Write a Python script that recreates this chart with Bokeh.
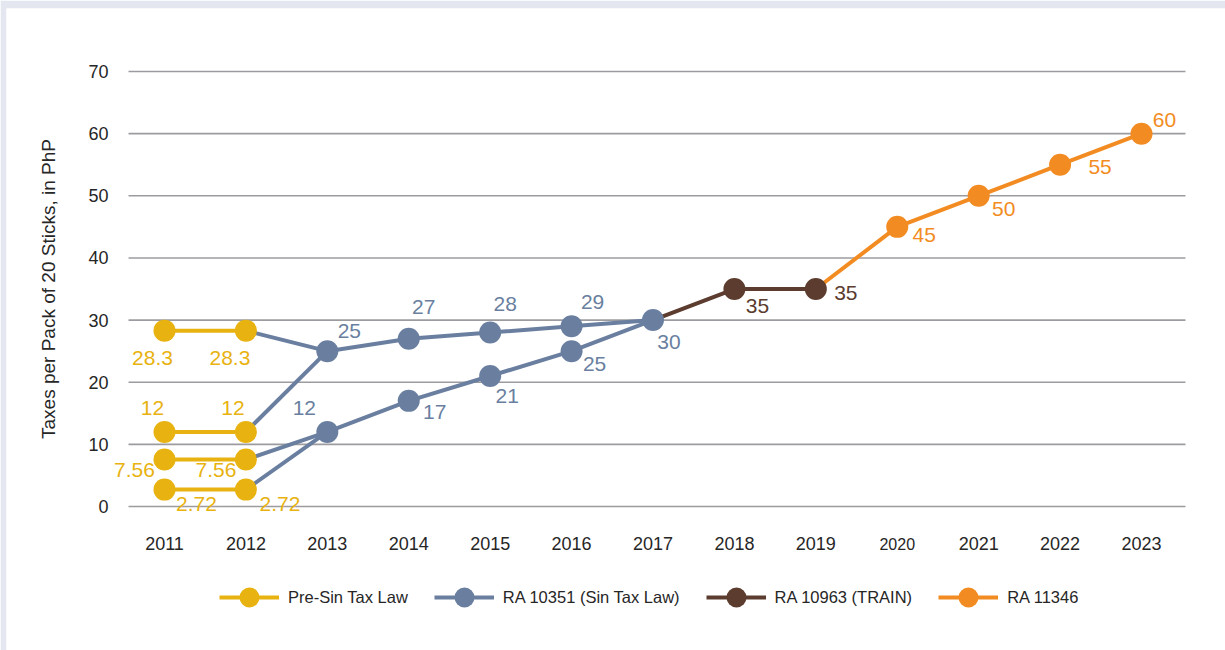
import math
from bokeh.plotting import figure
from bokeh.models import Range1d, ColumnDataSource, Legend, LegendItem
from bokeh.core.properties import value
from bokeh.embed import file_html
from bokeh.resources import INLINE

FONT = "Liberation Sans"

# ---------------- data ----------------
years = list(range(2011, 2024))
y_ticks = [0, 10, 20, 30, 40, 50, 60, 70]
y_title = "Taxes per Pack of 20 Sticks, in PhP"

presin_years = [2011, 2012]
presin_tiers = [28.3, 12, 7.56, 2.72]

ra10351_lines_years = [
    [2012, 2013, 2014, 2015, 2016, 2017],
    [2012, 2013],
    [2012, 2013, 2014, 2015, 2016, 2017],
    [2012, 2013],
]
ra10351_lines_vals = [
    [28.3, 25, 27, 28, 29, 30],
    [12, 25],
    [7.56, 12, 17, 21, 25, 30],
    [2.72, 12],
]

train_years = [2017, 2018, 2019]
train_vals = [30, 35, 35]

ra11346_years = [2019, 2020, 2021, 2022, 2023]
ra11346_vals = [35, 45, 50, 55, 60]

series_names = ["Pre-Sin Tax Law", "RA 10351 (Sin Tax Law)", "RA 10963 (TRAIN)", "RA 11346"]

# data labels: (year, value, text)
presin_labels = [(2011, 28.3, "28.3"), (2012, 28.3, "28.3"), (2011, 12, "12"), (2012, 12, "12"),
                 (2011, 7.56, "7.56"), (2012, 7.56, "7.56"), (2011, 2.72, "2.72"), (2012, 2.72, "2.72")]
ra10351_labels = [(2013, 25, "25"), (2013, 12, "12"), (2014, 27, "27"), (2015, 28, "28"), (2016, 29, "29"),
                  (2017, 30, "30"), (2016, 25, "25"), (2015, 21, "21"), (2014, 17, "17")]
train_labels = [(2018, 35, "35"), (2019, 35, "35")]
ra11346_labels = [(2020, 45, "45"), (2021, 50, "50"), (2022, 55, "55"), (2023, 60, "60")]

# ---------------- styles / layout ----------------
C_YEL = "#E8B210"
C_BLU = "#6A7FA0"
C_BRN = "#5B3C2E"
C_ORG = "#F28C22"
TXT = "#262626"
GRID = "#9c9ca0"
PAGE_BG = "#E4E7EF"

presin_off = [(-12, 27), (-16, 27), (-12, -24), (-13, -24), (-30, 10), (-30, 10), (32, 14), (34, 14)]
ra10351_off = [(22, -20), (-23, -24), (15, -32), (15, -29), (21, -24), (16, 22), (23, 13), (17, 20), (26, 11)]
train_off = [(23, 17), (30, 4)]
ra11346_off = [(27, 8), (25, 13), (40, 2), (23, -14)]

# horizontal padding of the category band (in years) around first/last year
PAD_L, PAD_R = 0.442, 0.54
grid_x0 = years[0] - PAD_L
grid_x1 = years[-1] + PAD_R

p = figure(width=1225, height=650, output_backend="svg", toolbar_location=None,
           x_range=Range1d(2009.0595, 2024.0317), y_range=Range1d(-23.17, 80.14),
           min_border_left=6, min_border_right=0, min_border_top=8, min_border_bottom=0)
p.outline_line_color = None
p.background_fill_color = "white"
p.border_fill_color = PAGE_BG
p.xaxis.visible = False
p.yaxis.visible = False
p.xgrid.visible = False
p.ygrid.visible = False

# horizontal gridlines
p.segment(x0=[grid_x0] * len(y_ticks), x1=[grid_x1] * len(y_ticks), y0=y_ticks, y1=y_ticks,
          line_color=GRID, line_width=1.6)

# y tick labels
p.text(x=[grid_x0] * len(y_ticks), y=y_ticks, text=[str(t) for t in y_ticks], x_offset=-20,
       text_font=value(FONT), text_font_size="18px", text_color=TXT,
       text_align="right", text_baseline="middle")
# y axis title
p.text(x=[grid_x0], y=[(y_ticks[0] + y_ticks[-1]) / 2], text=[y_title], x_offset=-80, angle=math.pi / 2,
       text_font=value(FONT), text_font_size="19px", text_color=TXT,
       text_align="center", text_baseline="middle")
# x tick labels (the source shows "2020" in a slightly smaller type)
x_label_size = {2020: "16px"}
p.text(x="x", y="y", text="t", text_font_size="fs", y_offset=37,
       source=ColumnDataSource(dict(x=years, y=[y_ticks[0]] * len(years), t=[str(y) for y in years],
                                    fs=[x_label_size.get(y, "18px") for y in years])),
       text_font=value(FONT), text_color=TXT, text_align="center", text_baseline="middle")

LW = 4
SZ = 22

# RA 11346
r_org_l = p.line(ra11346_years, ra11346_vals, line_color=C_ORG, line_width=LW)
r_org_s = p.scatter(ra11346_years[1:], ra11346_vals[1:], size=SZ, fill_color=C_ORG, line_color=None)

# TRAIN
r_brn_l = p.line(train_years, train_vals, line_color=C_BRN, line_width=LW)
r_brn_s = p.scatter(train_years[1:], train_vals[1:], size=SZ, fill_color=C_BRN, line_color=None)

# RA 10351
r_blu_l = p.multi_line(ra10351_lines_years, ra10351_lines_vals, line_color=C_BLU, line_width=LW)
bx, by = [], []
for xs, vs in zip(ra10351_lines_years, ra10351_lines_vals):
    for x, v in zip(xs[1:], vs[1:]):
        if (x, v) not in zip(bx, by):
            bx.append(x)
            by.append(v)
r_blu_s = p.scatter(bx, by, size=SZ, fill_color=C_BLU, line_color=None)

# Pre-sin
r_yel_l = p.multi_line([presin_years] * len(presin_tiers), [[v, v] for v in presin_tiers],
                       line_color=C_YEL, line_width=LW)
yx = [y for v in presin_tiers for y in presin_years]
yy = [v for v in presin_tiers for y in presin_years]
r_yel_s = p.scatter(yx, yy, size=SZ, fill_color=C_YEL, line_color=None)

# data labels
def add_labels(labels, offs, color):
    src = ColumnDataSource(dict(
        x=[l[0] for l in labels], y=[l[1] for l in labels], t=[l[2] for l in labels],
        dx=[o[0] for o in offs], dy=[o[1] for o in offs]))
    p.text(x="x", y="y", text="t", x_offset="dx", y_offset="dy", source=src,
           text_font=value(FONT), text_font_size="21px", text_color=color,
           text_align="center", text_baseline="middle")

add_labels(presin_labels, presin_off, C_YEL)
add_labels(ra10351_labels, ra10351_off, C_BLU)
add_labels(train_labels, train_off, C_BRN)
add_labels(ra11346_labels, ra11346_off, C_ORG)

legend = Legend(items=[
    LegendItem(label=series_names[0], renderers=[r_yel_l, r_yel_s]),
    LegendItem(label=series_names[1], renderers=[r_blu_l, r_blu_s]),
    LegendItem(label=series_names[2], renderers=[r_brn_l, r_brn_s]),
    LegendItem(label=series_names[3], renderers=[r_org_l, r_org_s]),
], orientation="horizontal", location=(213, 28))
legend.glyph_width = 60
legend.glyph_height = 50
legend.label_standoff = 9
legend.spacing = 26
legend.label_text_font = FONT
legend.label_text_font_size = "16.5px"
legend.label_text_color = TXT
legend.border_line_color = None
legend.background_fill_alpha = 0
legend.padding = 0
legend.margin = 0
p.add_layout(legend, "center")

open("out.html", "w").write(file_html(p, INLINE))
